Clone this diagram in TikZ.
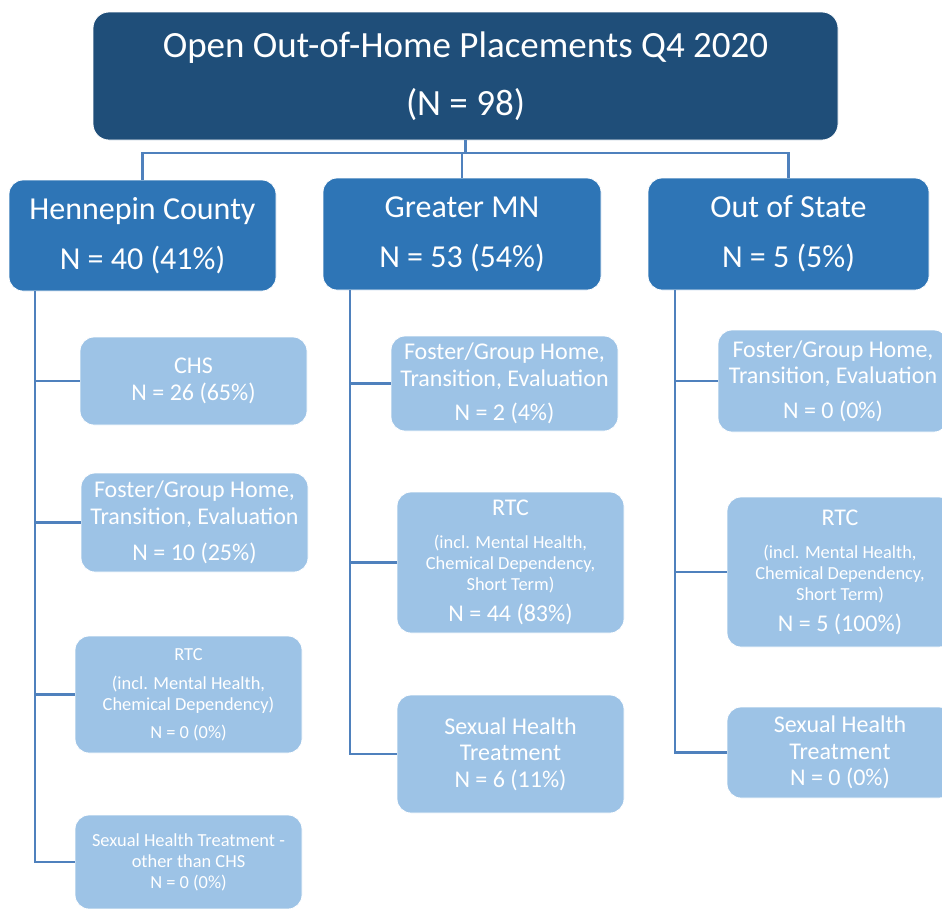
\documentclass[tikz,border=0pt]{standalone}
\usepackage{fontspec}
\setmainfont{Carlito}
\definecolor{darkblue}{HTML}{1F4E79}
\definecolor{midblue}{HTML}{2E75B6}
\definecolor{lightblue}{HTML}{9DC3E6}
\definecolor{lineblue}{HTML}{4F81BD}
\newcommand{\fsz}[2]{\fontsize{#1}{#2}\selectfont}
\begin{document}
\begin{tikzpicture}[x=1pt,y=-1pt,
  conn/.style={draw=lineblue, line width=2.5pt},
  topbox/.style={fill=darkblue, draw=white, line width=0.8pt, rounded corners=16pt, text=white, align=center, inner sep=0pt, font=\fsz{37}{45}},
  midbox/.style={fill=midblue, draw=white, line width=0.8pt, rounded corners=14pt, text=white, align=center, inner sep=0pt, font=\fsz{32}{39}},
  subbox/.style={fill=lightblue, draw=white, line width=0.8pt, rounded corners=14pt, text=white, align=center, inner sep=0pt, font=\fsz{24}{26.5}},
  smallbox/.style={subbox, font=\fsz{18.4}{21}},
]
\useasboundingbox (0,0) rectangle (942,908);
\clip (0,0) rectangle (942,908);

\node[topbox, minimum width=745pt, minimum height=128pt] (top) at (465.5,76)
  {Open Out-of-Home Placements Q4 2020\\[13pt](N = 98)};

\node[midbox, minimum width=267pt, minimum height=111pt] (hen) at (142.5,235.5)
  {Hennepin County\\[11pt]N = 40 (41\%)};
\node[midbox, minimum width=278pt, minimum height=112pt] (gmn) at (462,234)
  {Greater MN\\[11pt]N = 53 (54\%)};
\node[midbox, minimum width=281pt, minimum height=112pt] (oos) at (788.5,234)
  {Out of State\\[11pt]N = 5 (5\%)};

% Hennepin column
\node[subbox, minimum width=227pt, minimum height=88pt] (h1) at (193.5,381)
  {CHS\\N = 26 (65\%)};
\node[subbox, minimum width=227pt, minimum height=99pt] (h2) at (194.5,522.5)
  {Foster/Group Home,\\Transition, Evaluation\\[10pt]N = 10 (25\%)};
\node[smallbox, minimum width=227pt, minimum height=117pt] (h3) at (188.5,694.5)
  {RTC\\[8pt](incl. Mental Health,\\Chemical Dependency)\\[7pt]N = 0 (0\%)};
\node[smallbox, minimum width=227pt, minimum height=94pt] (h4) at (188.5,862)
  {Sexual Health Treatment -\\other than CHS\\N = 0 (0\%)};

% Greater MN column
\node[subbox, minimum width=227pt, minimum height=95pt] (g1) at (504.5,383.5)
  {Foster/Group Home,\\Transition, Evaluation\\[8pt]N = 2 (4\%)};
\node[smallbox, minimum width=227pt, minimum height=141pt] (g2) at (510.5,562.5)
  {{\fsz{24}{27}RTC}\\[12pt](incl. Mental Health,\\Chemical Dependency,\\Short Term)\\[10pt]{\fsz{24}{27}N = 44 (83\%)}};
\node[subbox, minimum width=227pt, minimum height=118pt] (g3) at (510.5,754)
  {Sexual Health\\Treatment\\N = 6 (11\%)};

% Out of State column
\node[subbox, minimum width=230pt, minimum height=102pt] (o1) at (833,381)
  {Foster/Group Home,\\Transition, Evaluation\\[8pt]N = 0 (0\%)};
\node[smallbox, minimum width=226pt, minimum height=150pt] (o2) at (840,572)
  {{\fsz{24}{27}RTC}\\[12pt](incl. Mental Health,\\Chemical Dependency,\\Short Term)\\[10pt]{\fsz{24}{27}N = 5 (100\%)}};
\node[subbox, minimum width=226pt, minimum height=91pt] (o3) at (840,752.5)
  {Sexual Health\\Treatment\\N = 0 (0\%)};

% top connectors
\coordinate (hb) at (0,153);
\draw[conn] (top.south) -- (top.south |- hb);
\draw[conn] (hen.north) -- (hen.north |- hb) -- (oos.north |- hb) -- (oos.north);
\draw[conn] (gmn.north) -- (gmn.north |- hb);

% column connectors
\coordinate (hx) at (35,0);
\coordinate (gx) at (350,0);
\coordinate (ox) at (675,0);
\draw[conn] (hx |- hen.south) -- (hx |- h4.west) -- (h4.west);
\draw[conn] (hx |- h1.west) -- (h1.west);
\draw[conn] (hx |- h2.west) -- (h2.west);
\draw[conn] (hx |- h3.west) -- (h3.west);

\draw[conn] (gx |- gmn.south) -- (gx |- g3.west) -- (g3.west);
\draw[conn] (gx |- g1.west) -- (g1.west);
\draw[conn] (gx |- g2.west) -- (g2.west);

\draw[conn] (ox |- oos.south) -- (ox |- o3.west) -- (o3.west);
\draw[conn] (ox |- o1.west) -- (o1.west);
\draw[conn] (ox |- o2.west) -- (o2.west);
\end{tikzpicture}
\end{document}
